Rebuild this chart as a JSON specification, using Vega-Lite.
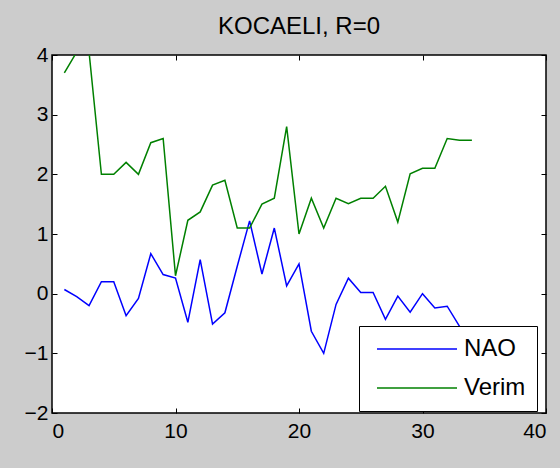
{
  "$schema": "https://vega.github.io/schema/vega-lite/v6.json",
  "autosize": {"type": "none"},
  "width": 494,
  "height": 358,
  "padding": {"left": 52, "top": 55, "right": 14, "bottom": 55},
  "background": "#cccccc",
  "title": {"text": "KOCAELI, R=0", "font": "Liberation Sans", "fontSize": 24, "fontWeight": "normal", "color": "#000000", "baseline": "alphabetic", "offset": -14, "anchor": "middle", "frame": "group"},
  "config": {
    "view": {"fill": "white", "stroke": "#000000", "strokeWidth": 1.5},
    "axis": {"grid": false, "domain": false, "tickColor": "#000000", "tickSize": -5, "tickWidth": 1, "labelFont": "Liberation Sans", "labelFontSize": 21, "labelColor": "#000000", "title": null},
    "legend": {"fillColor": "white", "strokeColor": "#000000", "strokeWidth": 1, "padding": 11, "symbolType": "M-4,0H4", "symbolSize": 400, "symbolStrokeWidth": 1.5, "symbolOffset": 35, "labelOffset": 35, "labelFont": "Liberation Sans", "labelFontSize": 24, "labelColor": "#000000", "rowPadding": 15, "zindex": 1}
  },
  "data": {"values": [
    {"x": 1, "value": 0.07, "series": "NAO"},
    {"x": 2, "value": -0.05, "series": "NAO"},
    {"x": 3, "value": -0.2, "series": "NAO"},
    {"x": 4, "value": 0.2, "series": "NAO"},
    {"x": 5, "value": 0.2, "series": "NAO"},
    {"x": 6, "value": -0.37, "series": "NAO"},
    {"x": 7, "value": -0.08, "series": "NAO"},
    {"x": 8, "value": 0.67, "series": "NAO"},
    {"x": 9, "value": 0.32, "series": "NAO"},
    {"x": 10, "value": 0.26, "series": "NAO"},
    {"x": 11, "value": -0.48, "series": "NAO"},
    {"x": 12, "value": 0.57, "series": "NAO"},
    {"x": 13, "value": -0.51, "series": "NAO"},
    {"x": 14, "value": -0.32, "series": "NAO"},
    {"x": 15, "value": 0.46, "series": "NAO"},
    {"x": 16, "value": 1.22, "series": "NAO"},
    {"x": 17, "value": 0.33, "series": "NAO"},
    {"x": 18, "value": 1.1, "series": "NAO"},
    {"x": 19, "value": 0.13, "series": "NAO"},
    {"x": 20, "value": 0.5, "series": "NAO"},
    {"x": 21, "value": -0.63, "series": "NAO"},
    {"x": 22, "value": -1.0, "series": "NAO"},
    {"x": 23, "value": -0.18, "series": "NAO"},
    {"x": 24, "value": 0.26, "series": "NAO"},
    {"x": 25, "value": 0.02, "series": "NAO"},
    {"x": 26, "value": 0.02, "series": "NAO"},
    {"x": 27, "value": -0.43, "series": "NAO"},
    {"x": 28, "value": -0.04, "series": "NAO"},
    {"x": 29, "value": -0.31, "series": "NAO"},
    {"x": 30, "value": 0.0, "series": "NAO"},
    {"x": 31, "value": -0.24, "series": "NAO"},
    {"x": 32, "value": -0.21, "series": "NAO"},
    {"x": 33, "value": -0.55, "series": "NAO"},
    {"x": 1, "value": 3.7, "series": "Verim"},
    {"x": 2, "value": 4.05, "series": "Verim"},
    {"x": 3, "value": 4.05, "series": "Verim"},
    {"x": 4, "value": 2.0, "series": "Verim"},
    {"x": 5, "value": 2.0, "series": "Verim"},
    {"x": 6, "value": 2.2, "series": "Verim"},
    {"x": 7, "value": 2.0, "series": "Verim"},
    {"x": 8, "value": 2.53, "series": "Verim"},
    {"x": 9, "value": 2.6, "series": "Verim"},
    {"x": 10, "value": 0.3, "series": "Verim"},
    {"x": 11, "value": 1.23, "series": "Verim"},
    {"x": 12, "value": 1.37, "series": "Verim"},
    {"x": 13, "value": 1.82, "series": "Verim"},
    {"x": 14, "value": 1.9, "series": "Verim"},
    {"x": 15, "value": 1.1, "series": "Verim"},
    {"x": 16, "value": 1.1, "series": "Verim"},
    {"x": 17, "value": 1.5, "series": "Verim"},
    {"x": 18, "value": 1.6, "series": "Verim"},
    {"x": 19, "value": 2.8, "series": "Verim"},
    {"x": 20, "value": 1.0, "series": "Verim"},
    {"x": 21, "value": 1.6, "series": "Verim"},
    {"x": 22, "value": 1.1, "series": "Verim"},
    {"x": 23, "value": 1.6, "series": "Verim"},
    {"x": 24, "value": 1.51, "series": "Verim"},
    {"x": 25, "value": 1.6, "series": "Verim"},
    {"x": 26, "value": 1.6, "series": "Verim"},
    {"x": 27, "value": 1.8, "series": "Verim"},
    {"x": 28, "value": 1.2, "series": "Verim"},
    {"x": 29, "value": 2.01, "series": "Verim"},
    {"x": 30, "value": 2.1, "series": "Verim"},
    {"x": 31, "value": 2.1, "series": "Verim"},
    {"x": 32, "value": 2.6, "series": "Verim"},
    {"x": 33, "value": 2.57, "series": "Verim"},
    {"x": 34, "value": 2.57, "series": "Verim"}
  ]},
  "resolve": {"axis": {"x": "independent", "y": "independent"}},
  "layer": [
    {
      "mark": {"type": "line", "strokeWidth": 1.5, "clip": true},
      "encoding": {
        "x": {"field": "x", "type": "quantitative", "scale": {"domain": [0, 40], "nice": false, "zero": false}, "axis": {"orient": "bottom", "values": [0, 10, 20, 30, 40], "labelPadding": 12}},
        "y": {"field": "value", "type": "quantitative", "scale": {"domain": [-2, 4], "nice": false, "zero": false}, "axis": {"orient": "left", "values": [-2, -1, 0, 1, 2, 3, 4], "labelPadding": 9}},
        "color": {"field": "series", "type": "nominal", "scale": {"domain": ["NAO", "Verim"], "range": ["#0000ff", "#008000"]}, "legend": {"title": null, "orient": "none", "legendX": 307, "legendY": 271}}
      }
    },
    {
      "mark": {"type": "line", "opacity": 0},
      "encoding": {
        "x": {"field": "x", "type": "quantitative", "axis": {"orient": "top", "values": [0, 10, 20, 30, 40], "labels": false}},
        "y": {"field": "value", "type": "quantitative", "axis": {"orient": "right", "values": [-2, -1, 0, 1, 2, 3, 4], "labels": false}},
        "detail": {"field": "series"}
      }
    }
  ]
}
